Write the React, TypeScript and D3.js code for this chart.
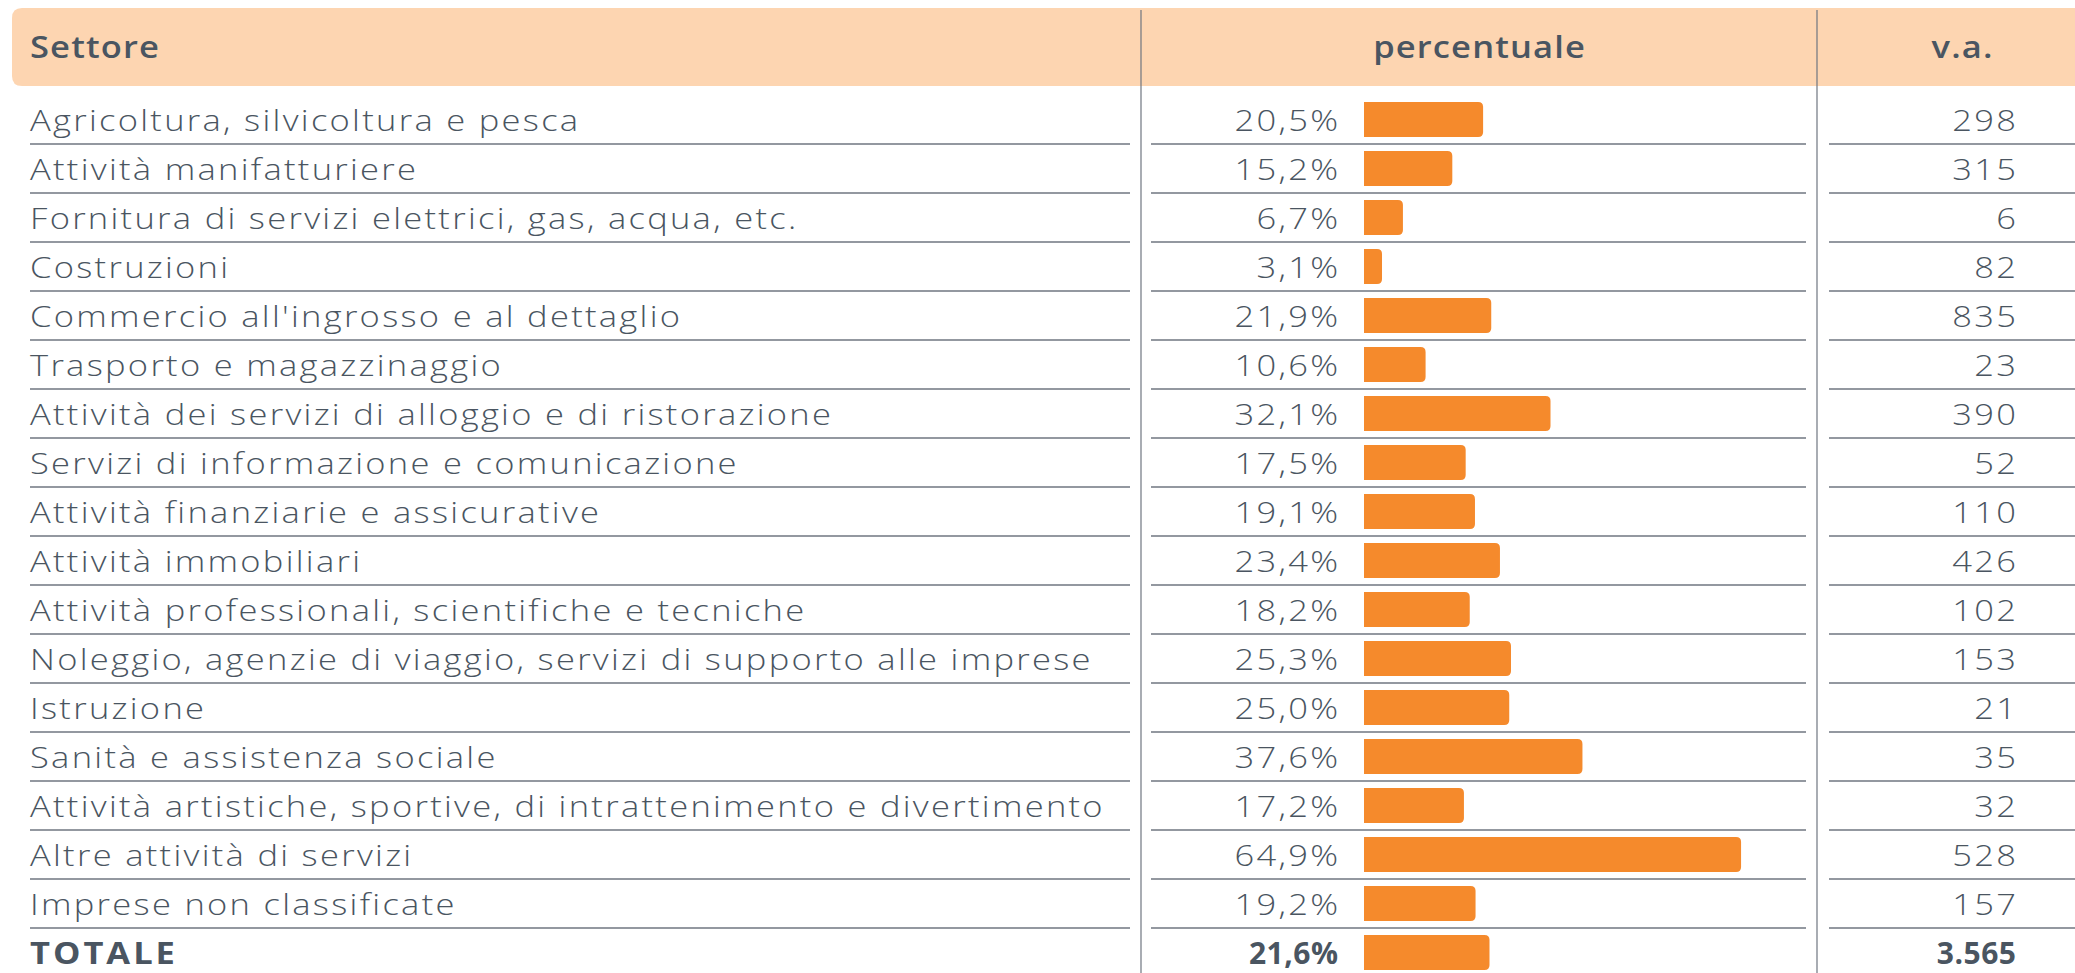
import * as d3 from 'd3';

const sectors = [
  'Agricoltura, silvicoltura e pesca',
  'Attività manifatturiere',
  'Fornitura di servizi elettrici, gas, acqua, etc.',
  'Costruzioni',
  "Commercio all'ingrosso e al dettaglio",
  'Trasporto e magazzinaggio',
  'Attività dei servizi di alloggio e di ristorazione',
  'Servizi di informazione e comunicazione',
  'Attività finanziarie e assicurative',
  'Attività immobiliari',
  'Attività professionali, scientifiche e tecniche',
  'Noleggio, agenzie di viaggio, servizi di supporto alle imprese',
  'Istruzione',
  'Sanità e assistenza sociale',
  'Attività artistiche, sportive, di intrattenimento e divertimento',
  'Altre attività di servizi',
  'Imprese non classificate',
  'TOTALE',
];

const percent = [20.5, 15.2, 6.7, 3.1, 21.9, 10.6, 32.1, 17.5, 19.1, 23.4, 18.2, 25.3, 25.0, 37.6, 17.2, 64.9, 19.2, 21.6];

const absValues = [298, 315, 6, 82, 835, 23, 390, 52, 110, 426, 102, 153, 21, 35, 32, 528, 157, 3565];

const headers = ['Settore', 'percentuale', 'v.a.'];

const W = 2075;
const H = 973;
const TEXT = '#4a5561';
const LINE = '#6f7680';
const BAR = '#f58a2c';
const HEAD_BG = '#fdd5b1';
const FONT = "'Open Sans', sans-serif";

const it = d3.formatLocale({ decimal: ',', thousands: '.', grouping: [3], currency: ['€', ''] });
const fmtPct = it.format('.1f');
const fmtInt = it.format(',d');

// right-rounded bar
const barPath = (x0: number, y: number, w: number, h: number, r: number) => {
  const rr = Math.min(r, w / 2);
  return `M${x0},${y}H${x0 + w - rr}Q${x0 + w},${y} ${x0 + w},${y + rr}V${y + h - rr}Q${x0 + w},${y + h} ${x0 + w - rr},${y + h}H${x0}Z`;
};

// text widened a little to mimic the wide geometric face of the original
const Label = ({ x, y, sx, ls, anchor = 'start', weight, children }: any) => {
  const shift = anchor === 'end' ? ls * sx : anchor === 'middle' ? (ls * sx) / 2 : 0;
  return (
    <text
      transform={`translate(${x + shift},${y}) scale(${sx},1)`}
      dy="0.36em"
      letterSpacing={ls}
      textAnchor={anchor}
      fontWeight={weight}
    >
      {children}
    </text>
  );
};

export default function App() {
  const y = d3.scaleBand<number>().domain(d3.range(sectors.length)).range([95, 95 + 49 * sectors.length]);
  const x = d3.scaleLinear().domain([0, 100]).range([1364, 1364 + 581]);

  const col1 = [30, 1130];
  const col2 = [1151, 1806];
  const col3 = [1829, W];

  return (
    <svg width={W} height={H} style={{ position: 'absolute', left: 0, top: 0 }} fontFamily={FONT}>
      <rect x={0} y={0} width={W} height={H} fill="#fff" />
      {/* header band */}
      <path d={`M${W},8H22Q12,8 12,18V76Q12,86 22,86H${W}Z`} fill={HEAD_BG} />
      <g fontSize={30} fill={TEXT}>
        <Label x={30} y={47} sx={1.15} ls={1} weight={600}>{headers[0]}</Label>
        <Label x={1479} y={47} sx={1.15} ls={1} weight={600} anchor="middle">{headers[1]}</Label>
        <Label x={1962} y={47} sx={1.15} ls={1} weight={600} anchor="middle">{headers[2]}</Label>
      </g>

      {/* column separators */}
      <line x1={1141} x2={1141} y1={10} y2={H} stroke={LINE} strokeWidth={1.2} />
      <line x1={1817} x2={1817} y1={10} y2={H} stroke={LINE} strokeWidth={1.2} />

      {sectors.map((s, i) => {
        const top = y(i) as number;
        const cy = top + y.bandwidth() / 2 + 1;
        const isTotal = i === sectors.length - 1;
        const weight = isTotal ? 700 : 300;
        const bottom = top + y.bandwidth();
        const nsx = isTotal ? 1 : 1.15;
        const nls = isTotal ? 0.5 : 2;
        return (
          <g key={s} fontSize={30} fill={TEXT}>
            <Label x={30} y={cy} sx={1.15} ls={isTotal ? 2.6 : 2} weight={weight}>{s}</Label>
            <Label x={1338} y={cy} sx={nsx} ls={nls} weight={weight} anchor="end">{fmtPct(percent[i])}%</Label>
            <path d={barPath(x(0), top + 7, x(percent[i]) - x(0), 35, 5)} fill={BAR} />
            <Label x={2016} y={cy} sx={nsx} ls={nls} weight={weight} anchor="end">{fmtInt(absValues[i])}</Label>
            {!isTotal && (
              <g stroke={LINE} strokeWidth={1.6}>
                <line x1={col1[0]} x2={col1[1]} y1={bottom} y2={bottom} />
                <line x1={col2[0]} x2={col2[1]} y1={bottom} y2={bottom} />
                <line x1={col3[0]} x2={col3[1]} y1={bottom} y2={bottom} />
              </g>
            )}
          </g>
        );
      })}
    </svg>
  );
}
